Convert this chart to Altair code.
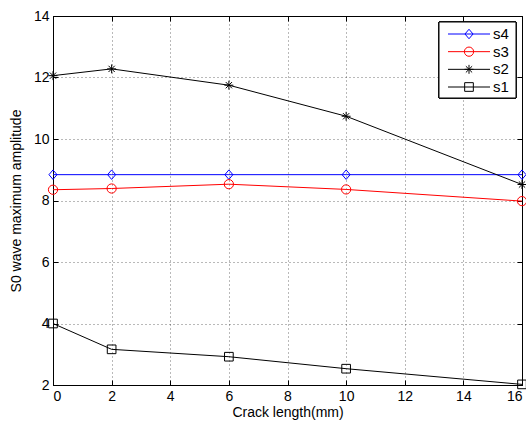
import altair as alt
import pandas as pd

crack = [0, 2, 6, 10, 16]
series_names = ["s4", "s3", "s2", "s1"]
s4 = [8.84, 8.84, 8.84, 8.84, 8.84]
s3 = [8.35, 8.39, 8.53, 8.36, 7.98]
s2 = [12.06, 12.28, 11.75, 10.74, 8.52]
s1 = [4.0, 3.16, 2.92, 2.53, 2.02]
x_ticks = list(range(0, 17, 2))
y_ticks = list(range(2, 15, 2))
colors = ["#0000ff", "#ff0000", "#000000", "#000000"]
shapes = [
    "M0,-1L0.85,0L0,1L-0.85,0Z",
    "circle",
    "M-1,0L1,0M0,-1L0,1M-0.7,-0.7L0.7,0.7M-0.7,0.7L0.7,-0.7",
    "square",
]

rows = []
for name, vals in zip(series_names, [s4, s3, s2, s1]):
    for x, y in zip(crack, vals):
        rows.append({"x": x, "y": y, "series": name})
df = pd.DataFrame(rows)
leg = pd.DataFrame({"series": series_names})

color = alt.Color("series:N", scale=alt.Scale(domain=series_names, range=colors), legend=None)
shape = alt.Shape("series:N", scale=alt.Scale(domain=series_names, range=shapes), legend=None)
size = alt.Size("series:N", scale=alt.Scale(domain=series_names, range=[90, 75, 70, 60]), legend=None)

xs = alt.Scale(domain=[0, 16], nice=False)
ys = alt.Scale(domain=[2, 14], nice=False)

base = alt.Chart(df)
lines = base.mark_line(strokeWidth=1).encode(
    x=alt.X("x:Q", title="Crack length(mm)", scale=xs,
            axis=alt.Axis(values=x_ticks, grid=True)),
    y=alt.Y("y:Q", title="S0 wave maximum amplitude", scale=ys,
            axis=alt.Axis(values=y_ticks, grid=True)),
    color=color, detail="series:N")
pts = base.mark_point(filled=False, strokeWidth=1, opacity=1).encode(
    x=alt.X("x:Q", scale=xs, axis=None), y=alt.Y("y:Q", scale=ys, axis=None),
    color=color, shape=shape, size=size)


def tick_axis(orient):
    return alt.Axis(values=x_ticks if orient in ("top", "bottom") else y_ticks,
                    orient=orient, offset=-5, tickSize=5, tickColor="black",
                    tickWidth=1, labels=False, domain=False, grid=False, title=None)


ticksA = base.mark_point(opacity=0).encode(
    x=alt.X("x:Q", scale=xs, axis=tick_axis("bottom")),
    y=alt.Y("y:Q", scale=ys, axis=tick_axis("left")))
ticksB = base.mark_point(opacity=0).encode(
    x=alt.X("x:Q", scale=xs, axis=tick_axis("top")),
    y=alt.Y("y:Q", scale=ys, axis=tick_axis("right")))

main = alt.layer(lines, pts, ticksA, ticksB).resolve_axis(x="independent", y="independent")

ly = alt.Y("series:N", scale=alt.Scale(type="point", domain=series_names, range=[18, 71], padding=0), axis=None)
legbox = alt.Chart(leg).mark_rect(fill="white", stroke="black", strokeWidth=1).encode(
    x=alt.value(386), x2=alt.value(463), y=alt.value(6), y2=alt.value(82))
leglines = alt.Chart(leg).mark_rule(strokeWidth=1).encode(
    x=alt.value(395), x2=alt.value(437), y=ly, color=color)
legpts = alt.Chart(leg).mark_point(filled=False, strokeWidth=1, opacity=1).encode(
    x=alt.value(416), y=ly, color=color, shape=shape, size=size)
legtext = alt.Chart(leg).mark_text(align="left", baseline="middle", fontSize=15,
                                   font="Liberation Sans", color="black").encode(
    x=alt.value(440), y=ly, text="series:N")

legend_layer = alt.layer(legbox, leglines, legpts, legtext)

chart = alt.layer(main, legend_layer).resolve_scale(y="independent").properties(
    width=469, height=369,
    padding={"left": 53, "top": 16, "right": 4, "bottom": 39},
    autosize=alt.AutoSizeParams(type="none"),
).configure_view(stroke="black", strokeWidth=1).configure_axis(
    domainColor="black", domainWidth=1,
    tickSize=0,
    gridColor="#000000", gridOpacity=0.55, gridDash=[1, 3], gridWidth=1,
    labelFont="Liberation Sans", labelFontSize=14, labelColor="black",
    titleFont="Liberation Sans", titleFontSize=14, titleColor="black",
    titleFontWeight="normal", labelPadding=4,
).configure_axisX(titlePadding=2).configure_axisY(titlePadding=10)

chart.save("out.html", embed_options={"renderer": "svg", "actions": False})
